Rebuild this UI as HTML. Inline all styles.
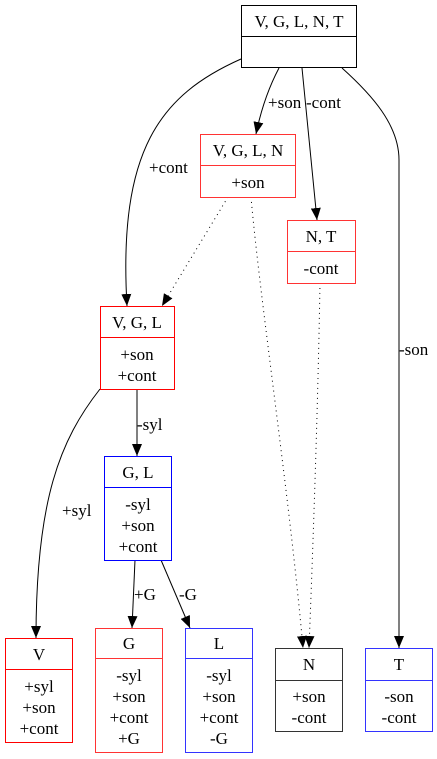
<!DOCTYPE html>
<html><head><style>html,body{margin:0;padding:0;background:#fff}svg{display:block}text{font-family:"Liberation Serif","Times New Roman",serif;font-size:17px}</style></head>
<body>
<svg width="437" height="759" viewBox="0 0 437 759">
<defs>
<marker id="a" viewBox="0 0 12 10" refX="12" refY="5" markerWidth="12" markerHeight="10" markerUnits="userSpaceOnUse" orient="auto"><path d="M0,0 L12,5 L0,10 z" fill="#000"/></marker>
</defs>
<g fill="none" stroke="#000" stroke-width="1">
<path d="M241,59 C160,95 118,150 127,306" marker-end="url(#a)"/>
<path d="M279,68 C270,85 262,105 256,134" marker-end="url(#a)"/>
<path d="M302,68 L317,220" marker-end="url(#a)"/>
<path d="M342,68 C372,95 399,125 399,160 L399,648" marker-end="url(#a)"/>
<path d="M228,197 L162,306" stroke-dasharray="1,4" marker-end="url(#a)"/>
<path d="M251,197 C260,300 290,500 303,648" stroke-dasharray="1,4" marker-end="url(#a)"/>
<path d="M320,283 C318,400 314,520 309,648" stroke-dasharray="1,4" marker-end="url(#a)"/>
<path d="M100,389 C60,440 36,500 36,638" marker-end="url(#a)"/>
<path d="M137,389 L137,456" marker-end="url(#a)"/>
<path d="M135,560 L132,628" marker-end="url(#a)"/>
<path d="M161,560 L190,628" marker-end="url(#a)"/>
</g>
<g fill="#000">
<text x="149" y="173">+cont</text>
<text x="268" y="108">+son</text>
<text x="306" y="108">-cont</text>
<text x="399" y="355">-son</text>
<text x="62" y="516">+syl</text>
<text x="137" y="430">-syl</text>
<text x="134" y="600">+G</text>
<text x="179" y="600">-G</text>
</g>
<g fill="#fff" stroke-width="1">
<rect x="241.5" y="5.5" width="115" height="62" stroke="#000"/>
<line x1="241.5" y1="36.5" x2="356.5" y2="36.5" stroke="#000"/>
<rect x="200.5" y="134.5" width="95" height="63" stroke="#f33"/>
<line x1="200.5" y1="165.5" x2="295.5" y2="165.5" stroke="#f33"/>
<rect x="287.5" y="220.5" width="68" height="63" stroke="#f33"/>
<line x1="287.5" y1="251.5" x2="355.5" y2="251.5" stroke="#f33"/>
<rect x="100.5" y="306.5" width="74" height="83" stroke="#f00"/>
<line x1="100.5" y1="337.5" x2="174.5" y2="337.5" stroke="#f00"/>
<rect x="104.5" y="456.5" width="67" height="104" stroke="#00f"/>
<line x1="104.5" y1="487.5" x2="171.5" y2="487.5" stroke="#00f"/>
<rect x="5.5" y="638.5" width="67" height="104" stroke="#f00"/>
<line x1="5.5" y1="669.5" x2="72.5" y2="669.5" stroke="#f00"/>
<rect x="95.5" y="628.5" width="67" height="124" stroke="#f33"/>
<line x1="95.5" y1="658.5" x2="162.5" y2="658.5" stroke="#f33"/>
<rect x="185.5" y="628.5" width="67" height="124" stroke="#33f"/>
<line x1="185.5" y1="658.5" x2="252.5" y2="658.5" stroke="#33f"/>
<rect x="275.5" y="648.5" width="67" height="83" stroke="#333"/>
<line x1="275.5" y1="680.5" x2="342.5" y2="680.5" stroke="#333"/>
<rect x="365.5" y="648.5" width="67" height="83" stroke="#33f"/>
<line x1="365.5" y1="680.5" x2="432.5" y2="680.5" stroke="#33f"/>
</g>
<g fill="#000" text-anchor="middle">
<text x="299" y="27">V, G, L, N, T</text>
<text x="248" y="156">V, G, L, N</text>
<text x="248" y="188">+son</text>
<text x="321" y="242">N, T</text>
<text x="321" y="274">-cont</text>
<text x="137" y="328">V, G, L</text>
<text x="137" y="360">+son</text>
<text x="137" y="381">+cont</text>
<text x="138" y="478">G, L</text>
<text x="138" y="510">-syl</text>
<text x="138" y="531">+son</text>
<text x="138" y="552">+cont</text>
<text x="39" y="660">V</text>
<text x="39" y="692">+syl</text>
<text x="39" y="713">+son</text>
<text x="39" y="734">+cont</text>
<text x="129" y="649">G</text>
<text x="129" y="681">-syl</text>
<text x="129" y="702">+son</text>
<text x="129" y="723">+cont</text>
<text x="129" y="744">+G</text>
<text x="219" y="649">L</text>
<text x="219" y="681">-syl</text>
<text x="219" y="702">+son</text>
<text x="219" y="723">+cont</text>
<text x="219" y="744">-G</text>
<text x="309" y="670">N</text>
<text x="309" y="702">+son</text>
<text x="309" y="723">-cont</text>
<text x="399" y="670">T</text>
<text x="399" y="702">-son</text>
<text x="399" y="723">-cont</text>
</g>
</svg>
</body></html>
